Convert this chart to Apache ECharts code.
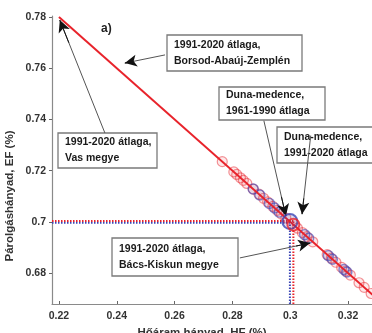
<!DOCTYPE html>
<html>
<head>
<meta charset="utf-8">
<script src="https://cdn.jsdelivr.net/npm/echarts@6/dist/echarts.min.js"></script>
<style>
  html, body { margin: 0; padding: 0; background: #fff; }
  #chart { width: 372px; height: 333px; }
</style>
</head>
<body>
<div id="chart"></div>
<script>
// tick values
const xTicks = [0.22, 0.24, 0.26, 0.28, 0.30, 0.32];
const yTicks = [0.68, 0.70, 0.72, 0.74, 0.76, 0.78];

// EF + HF = 1 line, end points
const balanceLine = [[0.22, 0.78], [0.3285, 0.6715]];

// simulated points (HF, EF)
const redPoints = [
  [0.2765, 0.7235], [0.2805, 0.7195], [0.2815, 0.7185], [0.2828, 0.7172],
  [0.2838, 0.7162], [0.2850, 0.7150], [0.2872, 0.7128], [0.2892, 0.7108],
  [0.2908, 0.7092], [0.2922, 0.7078], [0.2940, 0.7060], [0.2955, 0.7045],
  [0.2970, 0.7030], [0.2985, 0.7015], [0.3025, 0.6975], [0.3042, 0.6958],
  [0.3058, 0.6942], [0.3078, 0.6922], [0.3128, 0.6872], [0.3142, 0.6858],
  [0.3158, 0.6842], [0.3178, 0.6822], [0.3192, 0.6808], [0.3208, 0.6792],
  [0.3238, 0.6762], [0.3256, 0.6744], [0.3280, 0.6720]
];
const bluePoints = [
  [0.2872, 0.7128], [0.2895, 0.7105], [0.2928, 0.7072], [0.2946, 0.7054],
  [0.2962, 0.7038], [0.3050, 0.6950], [0.3064, 0.6936], [0.3132, 0.6868],
  [0.3146, 0.6854], [0.3186, 0.6814], [0.3196, 0.6804]
];

// basin averages
const basin6190 = [0.2999, 0.7001];
const basin9120 = [0.3011, 0.6989];

// dotted guides
const guideBlueH = [[0.2176, 0.6996], [0.2999, 0.6996]];
const guideRedH = [[0.2176, 0.7003], [0.3011, 0.7003]];
const guideBlueV = [[0.2999, 0.6679], [0.2999, 0.6996]];
const guideRedV = [[0.3011, 0.6679], [0.3011, 0.7003]];

// annotation arrows [from, to] in data coords
const arrows = [
  [[0.2567, 0.7652], [0.2428, 0.7620]],
  [[0.2359, 0.7347], [0.2203, 0.7788]],
  [[0.2909, 0.7395], [0.2985, 0.7023]],
  [[0.3071, 0.7337], [0.3041, 0.7030]],
  [[0.2826, 0.6859], [0.3069, 0.6917]]
];

const boxes = [
  { x: 167, y: 35, w: 135, h: 36, lines: ['1991-2020 átlaga,', 'Borsod-Abaúj-Zemplén'] },
  { x: 219, y: 87, w: 106, h: 33, lines: ['Duna-medence,', '1961-1990 átlaga'] },
  { x: 58, y: 133, w: 99, h: 35, lines: ['1991-2020 átlaga,', 'Vas megye'] },
  { x: 277, y: 127, w: 105, h: 36, lines: ['Duna-medence,', '1991-2020 átlaga'] },
  { x: 112, y: 238, w: 126, h: 38, lines: ['1991-2020 átlaga,', 'Bács-Kiskun megye'] }
];

const font = '"Liberation Sans", Arial, sans-serif';
const red = '#e8232b';
const blue = '#3b45b5';
const fmt = (v) => String(+Number(v).toFixed(2));

const chart = echarts.init(document.getElementById('chart'), null, { renderer: 'canvas' });

const guide = (data, color) => ({
  type: 'line',
  data,
  symbol: 'none',
  silent: true,
  lineStyle: { color, width: 2, type: [1.5, 1.5] },
  z: 2
});

// short black piece at the tip of each arrow, so the head is black like the original
const tips = arrows.map((a) => [
  { coord: [a[0][0] + (a[1][0] - a[0][0]) * 0.8, a[0][1] + (a[1][1] - a[0][1]) * 0.8] },
  { coord: a[1] }
]);

chart.setOption({
  animation: false,
  backgroundColor: '#fff',
  grid: { left: 52, right: 0, top: 16, bottom: 29, outerBoundsMode: 'none', containLabel: false },
  xAxis: {
    type: 'value',
    min: 0.2176,
    max: 0.3283,
    name: 'Hőáram hányad, HF (%)',
    nameLocation: 'middle',
    nameGap: 15,
    nameTextStyle: { fontFamily: font, fontWeight: 'bold', fontSize: 11.5, color: '#333', padding: [0, 20, 0, 0], verticalAlign: 'top' },
    axisLine: { lineStyle: { color: '#8a8a8a', width: 1.2 } },
    axisTick: { inside: true, length: 3, customValues: xTicks, lineStyle: { color: '#666' } },
    axisLabel: { customValues: xTicks, formatter: fmt, margin: 7, fontFamily: font, fontWeight: 'bold', fontSize: 10.5, color: '#333' },
    splitLine: { show: false }
  },
  yAxis: {
    type: 'value',
    min: 0.6679,
    max: 0.7804,
    axisLine: { show: true, lineStyle: { color: '#8a8a8a', width: 1.2 } },
    axisTick: { show: true, inside: false, length: 3, customValues: yTicks, lineStyle: { color: '#666' } },
    axisLabel: { customValues: yTicks, formatter: fmt, margin: 6, fontFamily: font, fontWeight: 'bold', fontSize: 10.5, color: '#333' },
    splitLine: { show: false }
  },
  graphic: [
    {
      type: 'text', x: 10, y: 196, rotation: Math.PI / 2,
      style: { text: 'Párolgáshányad, EF (%)', font: 'bold 11.5px ' + font, fill: '#333', align: 'center', verticalAlign: 'middle' }
    },
    {
      type: 'text', x: 101, y: 23,
      style: { text: 'a)', font: 'bold 12px ' + font, fill: '#222' }
    },
    ...boxes.map((b) => ({
      type: 'group', x: b.x, y: b.y, z: 100,
      children: [
        { type: 'rect', shape: { x: 0, y: 0, width: b.w, height: b.h }, style: { fill: '#fff', stroke: '#7a7a7a', lineWidth: 1.3 } },
        { type: 'text', x: 7, y: b.h / 2, style: { text: b.lines.join('\n'), font: 'bold 10.5px ' + font, fill: '#1a1a1a', lineHeight: 16, verticalAlign: 'middle' } }
      ]
    }))
  ],
  series: [
    guide(guideBlueH, blue),
    guide(guideRedH, red),
    guide(guideBlueV, blue),
    guide(guideRedV, red),
    {
      type: 'scatter',
      data: redPoints,
      symbol: 'circle',
      symbolSize: 10,
      itemStyle: { color: 'rgba(232,35,43,0.12)', borderColor: 'rgba(232,35,43,0.6)', borderWidth: 1.2 },
      z: 3
    },
    {
      type: 'scatter',
      data: bluePoints,
      symbol: 'circle',
      symbolSize: 10,
      itemStyle: { color: 'rgba(59,69,181,0.15)', borderColor: 'rgba(59,69,181,0.75)', borderWidth: 1.4 },
      z: 4
    },
    {
      type: 'line',
      data: balanceLine,
      symbol: 'none',
      lineStyle: { color: red, width: 2 },
      z: 5
    },
    {
      type: 'scatter',
      data: [basin6190],
      symbol: 'circle',
      symbolSize: 15,
      itemStyle: { color: 'rgba(59,69,181,0.2)', borderColor: blue, borderWidth: 2 },
      z: 6,
      markLine: {
        silent: true,
        symbol: ['none', 'none'],
        label: { show: false },
        lineStyle: { color: '#555', width: 1, type: 'solid' },
        data: arrows.map((a) => [{ coord: a[0] }, { coord: a[1] }])
      }
    },
    {
      type: 'scatter',
      data: [basin9120],
      symbol: 'circle',
      symbolSize: 12,
      itemStyle: { color: 'rgba(232,35,43,0.2)', borderColor: red, borderWidth: 2 },
      z: 7,
      markLine: {
        silent: true,
        symbol: ['none', 'arrow'],
        symbolSize: [9, 12],
        label: { show: false },
        lineStyle: { color: '#111', width: 1, type: 'solid' },
        data: tips
      }
    }
  ]
});
</script>
</body>
</html>
